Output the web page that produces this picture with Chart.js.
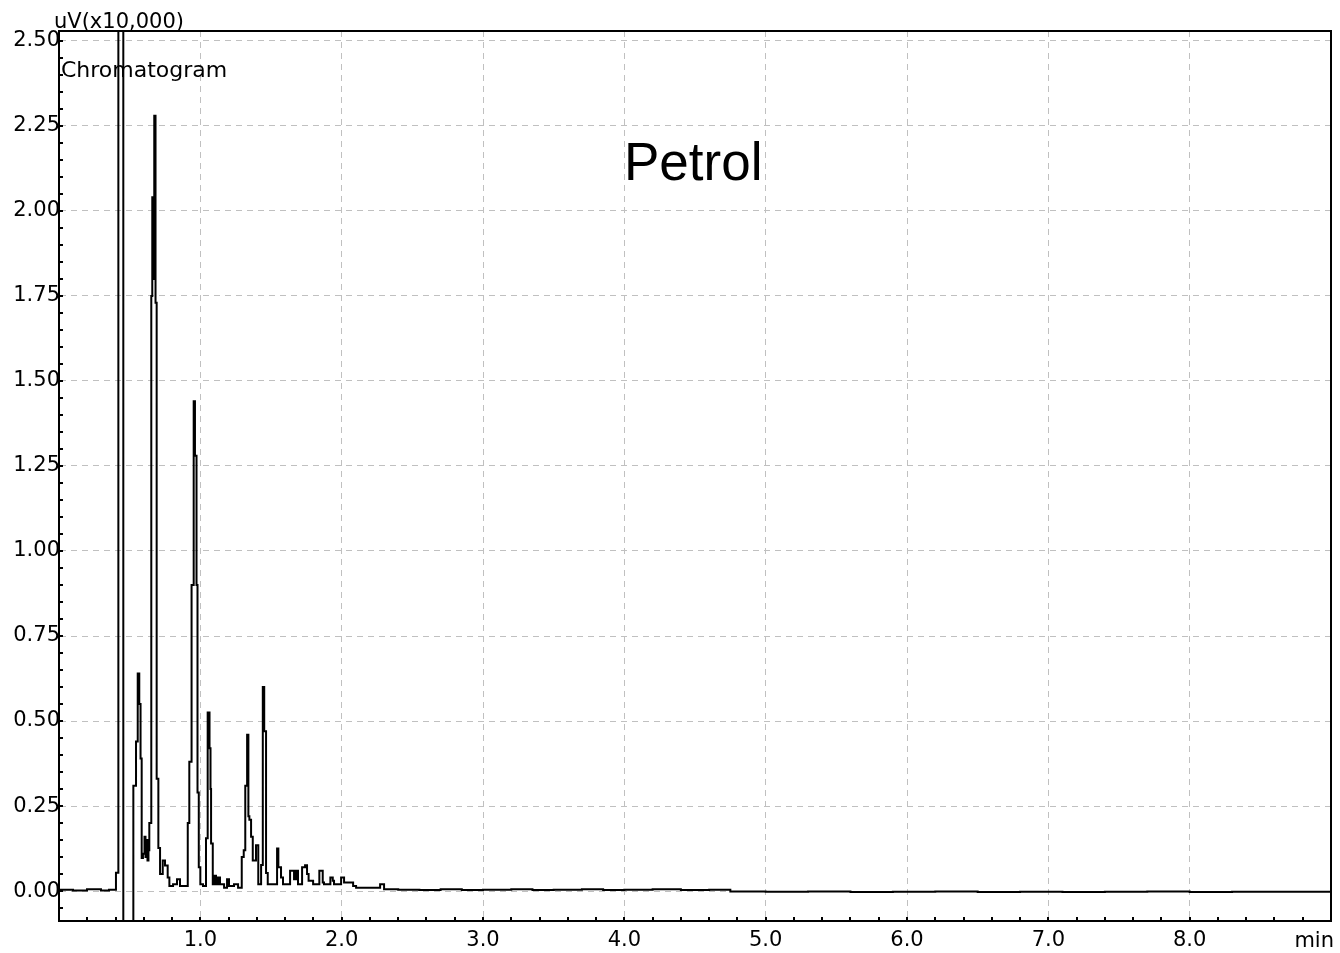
<!DOCTYPE html>
<html>
<head>
<meta charset="utf-8">
<title>Petrol chromatogram</title>
<script src="https://cdn.jsdelivr.net/npm/chart.js@4.4.1/dist/chart.umd.min.js"></script>
<style>
  html, body { margin: 0; padding: 0; background: #fff; }
  canvas { display: block; }
</style>
</head>
<body>
<canvas id="chromChart" width="1340" height="953"></canvas>
<script>
// retention time (min) where the detector level changes
const times = [
  0.000, 0.099, 0.198, 0.297, 0.354, 0.403, 0.420, 0.455, 0.526, 0.545,
  0.557, 0.568, 0.577, 0.585, 0.594, 0.605, 0.612, 0.619, 0.626, 0.633,
  0.639, 0.653, 0.660, 0.669, 0.674, 0.683, 0.691, 0.703, 0.715, 0.734,
  0.750, 0.769, 0.781, 0.807, 0.835, 0.856, 0.911, 0.922, 0.938, 0.953,
  0.962, 0.973, 0.980, 0.989, 1.000, 1.019, 1.040, 1.052, 1.065, 1.072,
  1.076, 1.088, 1.100, 1.111, 1.125, 1.139, 1.168, 1.189, 1.203, 1.238,
  1.267, 1.293, 1.307, 1.318, 1.331, 1.340, 1.347, 1.359, 1.371, 1.394,
  1.410, 1.430, 1.442, 1.452, 1.465, 1.477, 1.543, 1.552, 1.571, 1.585,
  1.635, 1.663, 1.677, 1.691, 1.720, 1.741, 1.755, 1.766, 1.798, 1.842,
  1.866, 1.875, 1.920, 1.937, 1.946, 1.996, 2.017, 2.081, 2.102, 2.272,
  2.300, 2.400, 2.550, 2.700, 2.850, 3.000, 3.200, 3.350, 3.500, 3.700,
  3.850, 4.000, 4.200, 4.400, 4.600, 4.750, 5.000, 5.300, 5.600, 5.900,
  6.200, 6.500, 6.800, 7.100, 7.400, 7.700, 8.000, 8.300, 8.600, 9.000
];

// signal, uV x 10,000 (solvent peak runs off scale both ways)
const signal = [
  0.004, 0.002, 0.005, 0.002, 0.004, 0.054, 3.200, -0.300, 0.310, 0.440,
  0.640, 0.550, 0.390, 0.097, 0.110, 0.160, 0.100, 0.150, 0.090, 0.120,
  0.200, 1.750, 2.040, 1.800, 2.280, 1.730, 0.330, 0.127, 0.050, 0.090,
  0.075, 0.040, 0.015, 0.020, 0.035, 0.015, 0.200, 0.380, 0.900, 1.440,
  1.280, 0.900, 0.290, 0.070, 0.020, 0.015, 0.155, 0.525, 0.420, 0.300,
  0.140, 0.020, 0.045, 0.020, 0.040, 0.020, 0.010, 0.035, 0.015, 0.020,
  0.010, 0.100, 0.120, 0.310, 0.460, 0.220, 0.210, 0.160, 0.090, 0.135,
  0.020, 0.077, 0.600, 0.470, 0.053, 0.020, 0.125, 0.070, 0.040, 0.020,
  0.060, 0.035, 0.060, 0.020, 0.070, 0.076, 0.050, 0.030, 0.020, 0.060,
  0.025, 0.020, 0.040, 0.030, 0.020, 0.040, 0.025, 0.015, 0.010, 0.020,
  0.005, 0.004, 0.003, 0.005, 0.003, 0.004, 0.005, 0.003, 0.004, 0.005,
  0.003, 0.004, 0.005, 0.003, 0.004, -0.001, -0.002, -0.001, -0.003, -0.002,
  -0.001, -0.003, -0.002, -0.003, -0.002, -0.001, -0.003, -0.002, -0.002, -0.002
];

const xTicks = [1, 2, 3, 4, 5, 6, 7, 8];
const yTicks = [0, 0.25, 0.5, 0.75, 1.0, 1.25, 1.5, 1.75, 2.0, 2.25, 2.5];

const labelFont = { family: 'DejaVu Sans', size: 21 };

// frame, inward minor ticks and the loose labels
const framePlugin = {
    id: 'frame',
    beforeDatasetsDraw(chart) {
        const ctx = chart.ctx;
        ctx.save();
        ctx.fillStyle = '#000';
        ctx.textAlign = 'left';
        ctx.textBaseline = 'alphabetic';
        ctx.font = '53px "Liberation Sans", Arial, sans-serif';
        ctx.fillText('Petrol', 624, 180);
        ctx.font = '22px "DejaVu Sans"';
        ctx.fillText('Chromatogram', 61, 77);
        ctx.restore();
    },
    afterDraw(chart) {
        const ctx = chart.ctx;
        const a = chart.chartArea;
        const x = chart.scales.x;
        const y = chart.scales.y;
        ctx.save();
        ctx.strokeStyle = '#000';
        ctx.lineWidth = 2;
        ctx.beginPath();
        ctx.moveTo(a.left, a.top);
        ctx.lineTo(a.right, a.top);
        ctx.lineTo(a.right, a.bottom);
        ctx.stroke();

        ctx.beginPath();
        for (let i = 1; i < 45; i++) {
            const px = Math.round(x.getPixelForValue(i * 0.2));
            ctx.moveTo(px, a.bottom);
            ctx.lineTo(px, a.bottom - 4);
        }
        for (let i = -1; i <= 50; i++) {
            const py = Math.round(y.getPixelForValue(i * 0.05));
            ctx.moveTo(a.left, py);
            ctx.lineTo(a.left + 4, py);
        }
        ctx.stroke();

        ctx.fillStyle = '#000';
        ctx.font = '21px "DejaVu Sans"';
        ctx.textBaseline = 'alphabetic';
        ctx.textAlign = 'left';
        ctx.fillText('uV(x10,000)', 54, 28);
        ctx.textAlign = 'right';
        ctx.fillText('min', 1334, 947);
        ctx.restore();
    }
};

const ctx = document.getElementById('chromChart').getContext('2d');
new Chart(ctx, {
    type: 'line',
    data: {
        datasets: [{
            label: 'Chromatogram',
            data: times.map((t, i) => ({ x: t, y: signal[i] })),
            borderColor: '#000',
            borderWidth: 2,
            stepped: true,
            fill: false,
            pointRadius: 0,
            clip: 0
        }]
    },
    options: {
        responsive: false,
        animation: false,
        devicePixelRatio: 1,
        layout: {
            padding: { top: 31, right: 9, bottom: 0, left: 0 }
        },
        plugins: {
            legend: { display: false },
            tooltip: { enabled: false }
        },
        scales: {
            x: {
                type: 'linear',
                min: 0,
                max: 9.0,
                afterBuildTicks: (axis) => {
                    axis.ticks = xTicks.map(v => ({ value: v }));
                },
                afterFit: (axis) => { axis.height = 32; },
                ticks: {
                    autoSkip: false,
                    maxRotation: 0,
                    padding: 7,
                    color: '#000',
                    font: labelFont,
                    callback: (v) => Number(v).toFixed(1)
                },
                grid: {
                    color: '#c0c0c0',
                    lineWidth: 1,
                    drawTicks: false
                },
                border: {
                    display: true,
                    color: '#000',
                    width: 2,
                    dash: [6, 5]
                }
            },
            y: {
                type: 'linear',
                min: -0.088,
                max: 2.529,
                afterBuildTicks: (axis) => {
                    axis.ticks = yTicks.map(v => ({ value: v }));
                },
                afterFit: (axis) => { axis.width = 59; },
                ticks: {
                    autoSkip: false,
                    padding: -1,
                    color: '#000',
                    font: labelFont,
                    callback: (v) => Number(v).toFixed(2)
                },
                grid: {
                    color: '#c0c0c0',
                    lineWidth: 1,
                    drawTicks: false
                },
                border: {
                    display: true,
                    color: '#000',
                    width: 2,
                    dash: [6, 5]
                }
            }
        }
    },
    plugins: [framePlugin]
});
</script>
</body>
</html>
